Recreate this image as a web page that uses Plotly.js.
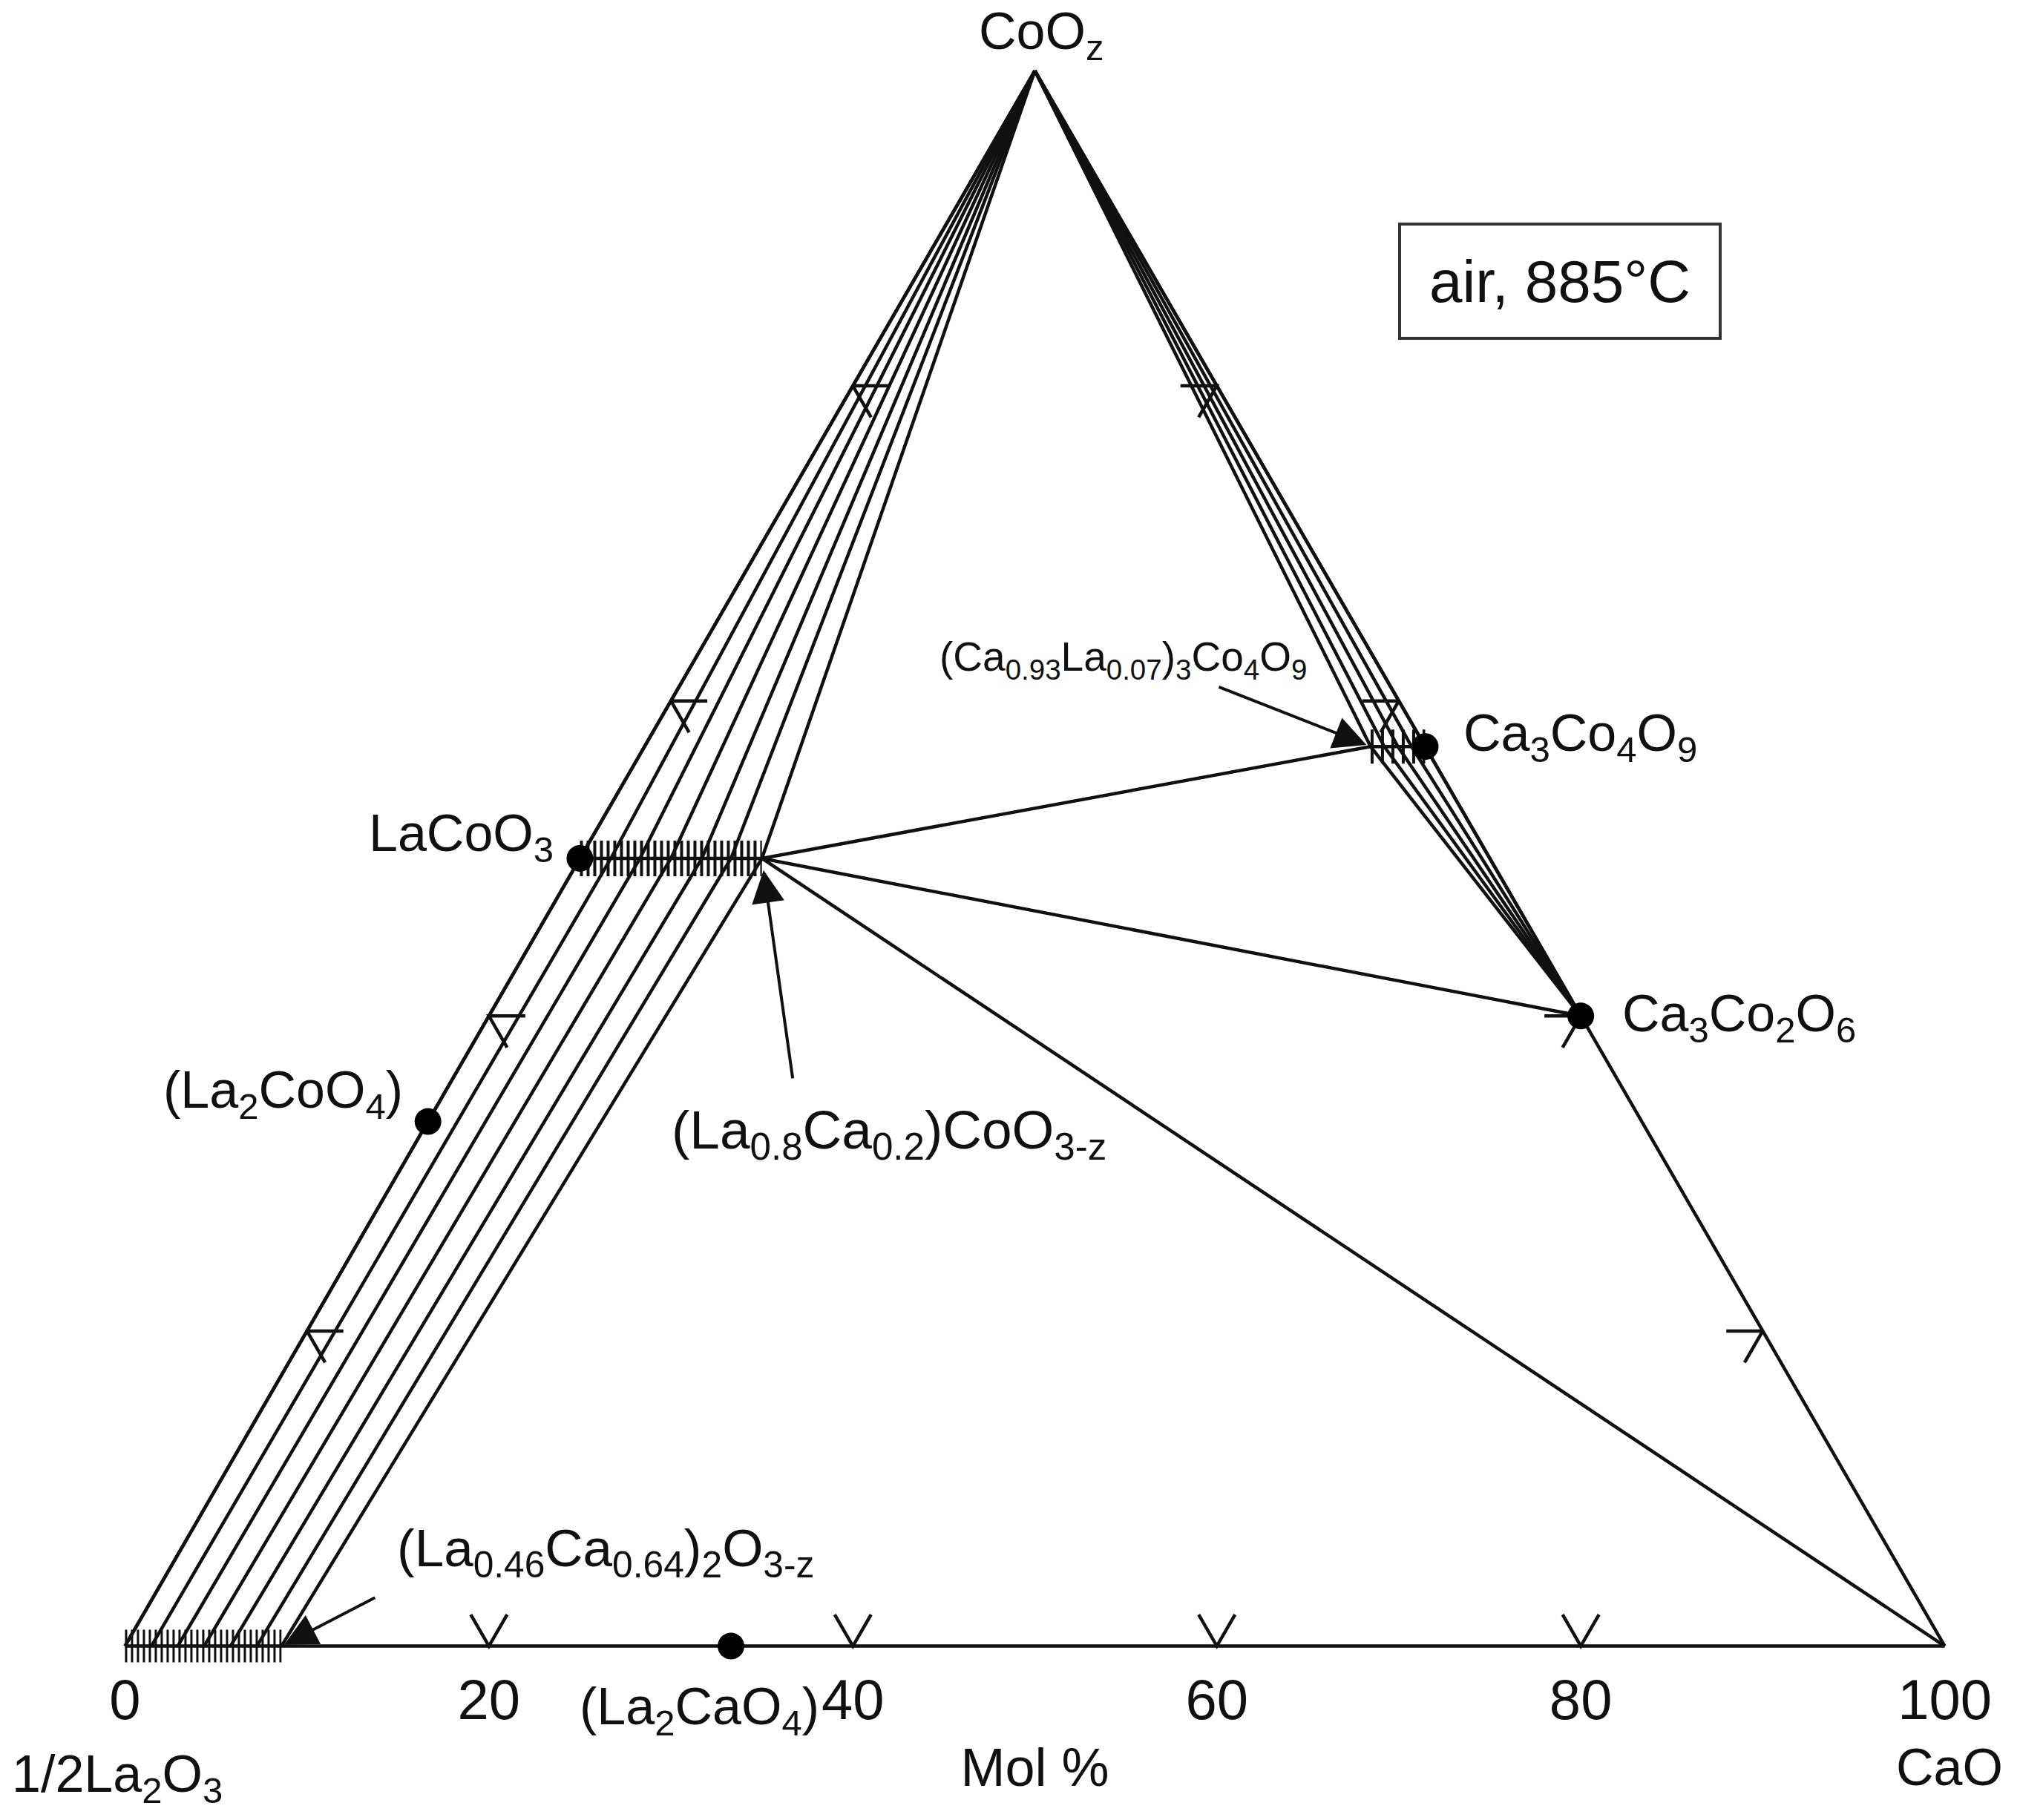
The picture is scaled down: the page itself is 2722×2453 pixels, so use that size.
<!DOCTYPE html>
<html>
<head>
<meta charset="utf-8">
<script src="https://cdn.plot.ly/plotly-3.0.1.min.js"></script>
<style>body{margin:0;background:#fff}</style>
</head>
<body>
<div id="chart" style="width:2722px;height:2453px"></div>
<script>
// compositions in mol %: CaO and CoO2, the rest is 1/2La2O3
const phaseLabels = ['LaCoO<sub>3</sub>', '(La<sub>2</sub>CoO<sub>4</sub>)', '(La<sub>2</sub>CaO<sub>4</sub>)',
  'Ca<sub>3</sub>Co<sub>4</sub>O<sub>9</sub>', 'Ca<sub>3</sub>Co<sub>2</sub>O<sub>6</sub>'];
const phaseCaO = [0, 0, 33.3, 42.9, 60];
const phaseCoO2 = [50, 33.3, 0, 57.1, 40];

// tie-line ends on the perovskite solid solution (CoO2 = 50)
const perovCaO = [0, 1.7, 3.3, 5, 6.7, 8.3, 10];
const perovCoO2 = 50;
// tie-line ends on the (La,Ca)2O3 solid solution (CoO2 = 0)
const sesquiCaO = [0, 1.45, 2.9, 4.35, 5.8, 7.25, 8.6];
// tie-line ends on the Ca3Co4O9 solid solution (CoO2 = 57.1)
const misfitCaO = [39.9, 40.65, 41.4, 42.15, 42.9];
const misfitCoO2 = 57.1;

const edgeTicks = [20, 40, 60, 80];
const axisTicks = [0, 20, 40, 60, 80, 100];

// label placement next to the dots (px)
const labelDx = [-33, -32, -42, 50, 54];
const labelDy = [29, 38, -86, 13, -2];
const labelSide = ['right', 'right', 'center', 'left', 'left'];

const FONT = 'Liberation Sans, Arial, sans-serif';
const INK = '#101010';
const R3 = Math.sqrt(3) / 2;
const tx = (ca, co) => ca + co / 2;
const ty = (ca, co) => co * R3;

// polylines given as lists of [CaO, CoO2] -> one trace with gaps
function polylines(list) {
  const x = [], y = [];
  list.forEach(p => {
    p.forEach(([ca, co]) => { x.push(tx(ca, co)); y.push(ty(ca, co)); });
    x.push(null); y.push(null);
  });
  return { x, y };
}

const lastPerov = perovCaO[perovCaO.length - 1];
const firstMisfit = misfitCaO[0];
const lastMisfit = misfitCaO[misfitCaO.length - 1];
const lastSesqui = sesquiCaO[sesquiCaO.length - 1];

const lines = polylines([
  [[0, 0], [0, 100]],
  [[0, 100], [100, 0]],
  [[0, 0], [100, 0]],
  [[0, perovCoO2], [lastPerov, perovCoO2]],
  [[firstMisfit, misfitCoO2], [lastMisfit, misfitCoO2]],
  ...perovCaO.map(c => [[0, 100], [c, perovCoO2]]),
  ...perovCaO.map((c, i) => [[c, perovCoO2], [sesquiCaO[i], 0]]),
  ...misfitCaO.map(c => [[0, 100], [c, misfitCoO2]]),
  ...misfitCaO.map(c => [[c, misfitCoO2], [phaseCaO[4], phaseCoO2[4]]]),
  [[lastPerov, perovCoO2], [firstMisfit, misfitCoO2]],
  [[lastPerov, perovCoO2], [phaseCaO[4], phaseCoO2[4]]],
  [[lastPerov, perovCoO2], [100, 0]]
]);

// tick chevrons on the three edges, arms parallel to the other two sides
const L = 2;
const tickMarks = polylines([
  ...edgeTicks.map(v => [[v, L], [v, 0], [v - L, L]]),
  ...edgeTicks.map(v => [[L, v], [0, v], [L, v - L]]),
  ...edgeTicks.map(v => [[100 - v - L, v], [100 - v, v], [100 - v, v - L]])
]);

function hatch(a, b, width, dash) {
  const p = polylines([[a, b]]);
  return { type: 'scatter', mode: 'lines', x: p.x, y: p.y, hoverinfo: 'skip',
    line: { color: INK, width: width, dash: dash }, showlegend: false };
}

const data = [
  hatch([0, perovCoO2], [lastPerov, perovCoO2], 48, '4px,5px'),
  hatch([0, 0], [lastSesqui, 0], 44, '3px,5px'),
  hatch([firstMisfit, misfitCoO2], [lastMisfit, misfitCoO2], 46, '4px,10px'),
  { type: 'scatter', mode: 'lines', x: lines.x, y: lines.y, hoverinfo: 'skip',
    line: { color: INK, width: 4.5 }, showlegend: false },
  { type: 'scatter', mode: 'lines', x: tickMarks.x, y: tickMarks.y, hoverinfo: 'skip',
    line: { color: INK, width: 4.5 }, showlegend: false },
  { type: 'scatter', mode: 'markers', cliponaxis: false,
    x: phaseCaO.map((c, i) => tx(c, phaseCoO2[i])),
    y: phaseCaO.map((c, i) => ty(c, phaseCoO2[i])),
    marker: { color: '#000', size: 36 }, showlegend: false }
];

const annotations = phaseLabels.map((t, i) => ({
  x: tx(phaseCaO[i], phaseCoO2[i]), y: ty(phaseCaO[i], phaseCoO2[i]),
  text: t, showarrow: false, xanchor: labelSide[i], yanchor: 'middle',
  xshift: labelDx[i], yshift: labelDy[i], font: { size: 70 }
}));

const arrowStyle = { showarrow: true, axref: 'x', ayref: 'y', arrowhead: 2,
  arrowsize: 2.2, arrowwidth: 4, arrowcolor: INK };

annotations.push(
  { x: tx(0, 100), y: ty(0, 100), text: 'CoO<sub>z</sub>', showarrow: false,
    xanchor: 'center', yanchor: 'bottom', xshift: 8, yshift: 2, font: { size: 70 } },
  { x: 0, y: 0, text: '1/2La<sub>2</sub>O<sub>3</sub>', showarrow: false,
    xanchor: 'center', yanchor: 'middle', xshift: -10, yshift: -177, font: { size: 70 } },
  { x: 100, y: 0, text: 'CaO', showarrow: false,
    xanchor: 'center', yanchor: 'middle', xshift: 6, yshift: -163, font: { size: 70 } },
  { x: 78.84, y: 75.05, text: 'air, 885°C', showarrow: false,
    font: { size: 80 }, bordercolor: '#333', borderwidth: 4, borderpad: 4,
    width: 420, height: 142, bgcolor: '#fff' },
  // substitution limits, text then arrow
  { x: 54.87, y: 54.22, text: '(Ca<sub>0.93</sub>La<sub>0.07</sub>)<sub>3</sub>Co<sub>4</sub>O<sub>9</sub>',
    showarrow: false, font: { size: 55 } },
  Object.assign({ x: tx(firstMisfit, misfitCoO2), y: ty(firstMisfit, misfitCoO2), text: '',
    ax: 60.05, ay: 52.75, standoff: 6 }, arrowStyle),
  { x: 42.0, y: 28.17, text: '(La<sub>0.8</sub>Ca<sub>0.2</sub>)CoO<sub>3-z</sub>',
    showarrow: false, font: { size: 73 } },
  Object.assign({ x: tx(lastPerov, perovCoO2), y: ty(lastPerov, perovCoO2), text: '',
    ax: 36.7, ay: 31.15, standoff: 16 }, arrowStyle),
  { x: 26.4, y: 5.18, text: '(La<sub>0.46</sub>Ca<sub>0.64</sub>)<sub>2</sub>O<sub>3-z</sub>',
    showarrow: false, font: { size: 71 } },
  Object.assign({ x: tx(lastSesqui, 0), y: ty(lastSesqui, 0), text: '',
    ax: 13.8, ay: 2.7, standoff: 4 }, arrowStyle)
);

const layout = {
  width: 2722, height: 2453,
  margin: { l: 139, r: 72, t: 66, b: 205 },
  paper_bgcolor: '#fff', plot_bgcolor: '#fff',
  font: { family: FONT, color: INK },
  showlegend: false,
  xaxis: {
    range: [-1.2, 101.2], showgrid: false, zeroline: false, showline: false,
    ticks: '', tickvals: axisTicks, ticktext: axisTicks.map(String),
    tickfont: { size: 76 }, ticklabelstandoff: -8,
    title: { text: 'Mol %', font: { size: 72 }, standoff: 24 }
  },
  yaxis: { range: [-1.2, 87.8], visible: false },
  annotations: annotations
};

Plotly.newPlot('chart', data, layout, { staticPlot: true });
</script>
</body>
</html>
